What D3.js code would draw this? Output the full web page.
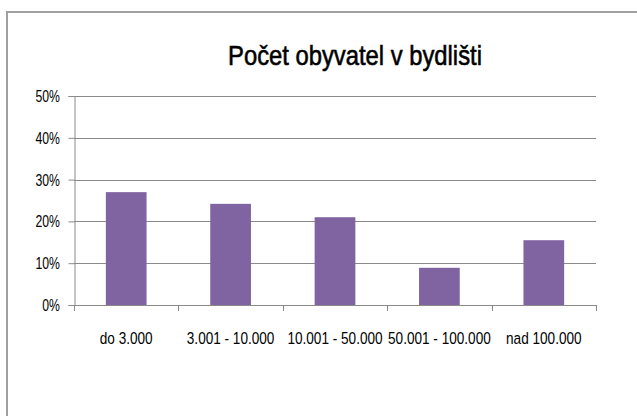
<!DOCTYPE html>
<html>
<head>
<meta charset="utf-8">
<script src="https://cdn.jsdelivr.net/npm/d3@7"></script>
<style>
  body { margin: 0; background: #fff; }
  svg { display: block; }
  text { font-family: "Liberation Sans", Arial, sans-serif; fill: #000; }
</style>
</head>
<body>
<svg id="chart" width="637" height="416"></svg>
<script>
// ─── DATA ────────────────────────────────────────────────────────────────────
const title = 'Počet obyvatel v bydlišti';
const categories = ['do 3.000', '3.001 - 10.000', '10.001 - 50.000', '50.001 - 100.000', 'nad 100.000'];
const values = [0.270, 0.242, 0.210, 0.089, 0.155];
const yTicks = [0, 0.1, 0.2, 0.3, 0.4, 0.5];

// ─── SETUP ───────────────────────────────────────────────────────────────────
const svg = d3.select('#chart');
const plot = { left: 74, right: 596, top: 96, bottom: 305 };
const axisColor = '#8a8a8a';

// chart-area frame (runs off the right and bottom edges like the original)
svg.append('rect')
  .attr('x', 7).attr('y', 12)
  .attr('width', 700).attr('height', 500)
  .attr('fill', 'none')
  .attr('stroke', '#a0a0a0')
  .attr('stroke-width', 2);

svg.append('text')
  .attr('transform', 'translate(355,65) scale(0.85,1)')
  .attr('text-anchor', 'middle')
  .attr('font-size', 28)
  .attr('stroke', '#000')
  .attr('stroke-width', 0.6)
  .text(title);

const x = d3.scaleBand().domain(categories).range([plot.left, plot.right]);
const y = d3.scaleLinear().domain([0, 0.5]).range([plot.bottom, plot.top]);
const barW = x.bandwidth() * 0.39;
const pct = d3.format('.0%');

// gridlines
svg.append('g')
  .selectAll('line')
  .data(yTicks.filter((d) => d > 0))
  .join('line')
  .attr('x1', plot.left).attr('x2', plot.right)
  .attr('y1', (d) => Math.round(y(d)) + 0.5)
  .attr('y2', (d) => Math.round(y(d)) + 0.5)
  .attr('stroke', axisColor);

// y axis
const yAxis = svg.append('g')
  .attr('transform', `translate(${plot.left + 0.5},0)`)
  .call(d3.axisLeft(y).tickValues(yTicks).tickSize(6).tickFormat(''));
yAxis.selectAll('path, line').attr('stroke', axisColor);

svg.append('g')
  .selectAll('text')
  .data(yTicks)
  .join('text')
  .attr('transform', (d) => `translate(60,${y(d) + 6}) scale(0.72,1)`)
  .attr('text-anchor', 'end')
  .attr('font-size', 17)
  .text((d) => pct(d));

// bars
svg.append('g')
  .selectAll('rect')
  .data(categories)
  .join('rect')
  .attr('x', (d) => x(d) + (x.bandwidth() - barW) / 2)
  .attr('width', barW)
  .attr('y', (d, i) => y(values[i]))
  .attr('height', (d, i) => plot.bottom - y(values[i]))
  .attr('fill', '#8064a2');

// x axis line + ticks at category boundaries
const xg = svg.append('g');
xg.append('line')
  .attr('x1', plot.left).attr('x2', plot.right)
  .attr('y1', plot.bottom + 0.5).attr('y2', plot.bottom + 0.5)
  .attr('stroke', axisColor);
const bounds = categories.map((d) => x(d)).concat([plot.right]);
xg.selectAll('line.tick')
  .data(bounds)
  .join('line')
  .attr('class', 'tick')
  .attr('x1', (d) => Math.round(d) + 0.5).attr('x2', (d) => Math.round(d) + 0.5)
  .attr('y1', plot.bottom).attr('y2', plot.bottom + 6)
  .attr('stroke', axisColor);
xg.selectAll('text')
  .data(categories)
  .join('text')
  .attr('transform', (d) => `translate(${x(d) + x.bandwidth() / 2},344) scale(0.8,1)`)
  .attr('text-anchor', 'middle')
  .attr('font-size', 17)
  .text((d) => d);
</script>
</body>
</html>
